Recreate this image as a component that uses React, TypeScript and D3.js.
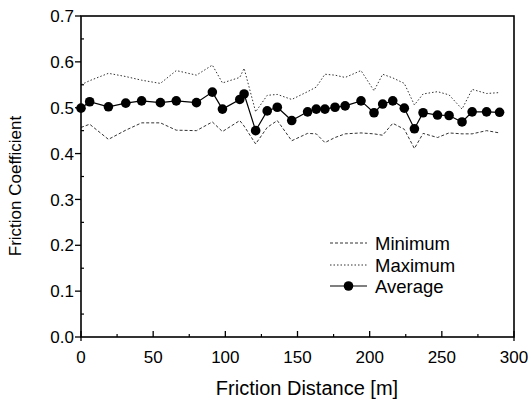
import React from "react";
import * as d3 from "d3";

const distance = [0, 6, 19, 31, 42, 55, 66, 80, 91, 98, 110, 113, 121, 129, 136, 146, 157, 163, 169, 176, 183, 194, 203, 209, 216, 224, 231, 237, 247, 255, 264, 271, 281, 290];
const averageValues = [0.499, 0.513, 0.502, 0.51, 0.515, 0.511, 0.515, 0.511, 0.534, 0.497, 0.518, 0.53, 0.45, 0.493, 0.501, 0.472, 0.491, 0.497, 0.497, 0.501, 0.504, 0.515, 0.489, 0.508, 0.515, 0.499, 0.454, 0.489, 0.484, 0.483, 0.469, 0.491, 0.491, 0.49];
const maximumValues = [0.55, 0.559, 0.575, 0.568, 0.56, 0.553, 0.581, 0.571, 0.593, 0.554, 0.566, 0.586, 0.491, 0.527, 0.529, 0.518, 0.535, 0.545, 0.573, 0.571, 0.566, 0.581, 0.537, 0.573, 0.565, 0.553, 0.506, 0.53, 0.535, 0.528, 0.497, 0.54, 0.531, 0.533];
const minimumValues = [0.457, 0.464, 0.431, 0.451, 0.467, 0.467, 0.451, 0.45, 0.469, 0.448, 0.472, 0.46, 0.421, 0.457, 0.472, 0.428, 0.444, 0.443, 0.424, 0.435, 0.443, 0.445, 0.443, 0.44, 0.466, 0.453, 0.411, 0.444, 0.435, 0.445, 0.443, 0.443, 0.45, 0.445];
const xTicks = [0, 50, 100, 150, 200, 250, 300];
const xMinorTicks = [25, 75, 125, 175, 225, 275];
const yTicks = [0, 0.1, 0.2, 0.3, 0.4, 0.5, 0.6, 0.7];
const yMinorTicks = [0.05, 0.15, 0.25, 0.35, 0.45, 0.55, 0.65];
const legendLabels = ["Minimum", "Maximum", "Average"];

const FONT = "'Liberation Sans', Arial, Helvetica, sans-serif";

export default function App() {
  const left = 81, right = 514, top = 16, bottom = 337;
  const x = d3.scaleLinear().domain([0, 300]).range([left, right]);
  const y = d3.scaleLinear().domain([0, 0.7]).range([bottom, top]);
  const pts = (vals: number[]) => distance.map((d, i) => [d, vals[i]] as [number, number]);
  const line = d3.line<[number, number]>().x(d => x(d[0])).y(d => y(d[1]));

  const legY = [243, 265, 286];
  const legX0 = 330, legX1 = 367;
  const minDash = "3,2";
  const maxDash = "1.5,2";

  return (
    <svg width={532} height={401} style={{ position: "absolute", left: 0, top: 0, background: "#fff" }} fontFamily={FONT}>
      <rect x={0} y={0} width={532} height={401} fill="#fff" />
      <path d={line(pts(maximumValues)) || ""} fill="none" stroke="#333" strokeWidth={1} strokeDasharray={maxDash} />
      <path d={line(pts(minimumValues)) || ""} fill="none" stroke="#333" strokeWidth={1} strokeDasharray={minDash} />
      <path d={line(pts(averageValues)) || ""} fill="none" stroke="#000" strokeWidth={1.2} />
      {pts(averageValues).map((p, i) => (
        <circle key={i} cx={x(p[0])} cy={y(p[1])} r={4.8} fill="#000" />
      ))}
      <rect x={left} y={top} width={right - left} height={bottom - top} fill="none" stroke="#000" strokeWidth={1.6} />
      {xTicks.map(t => (
        <g key={t}>
          <line x1={x(t)} x2={x(t)} y1={bottom} y2={bottom - 6} stroke="#000" strokeWidth={1.3} />
          <text x={x(t)} y={363} textAnchor="middle" fontSize={17} fill="#000">{t}</text>
        </g>
      ))}
      <line x1={x(0)} x2={x(0)} y1={bottom} y2={bottom + 4} stroke="#000" strokeWidth={1.3} />
      <line x1={x(300)} x2={x(300)} y1={bottom} y2={bottom + 4} stroke="#000" strokeWidth={1.3} />
      {xMinorTicks.map(t => (
        <line key={t} x1={x(t)} x2={x(t)} y1={bottom} y2={bottom - 3} stroke="#000" strokeWidth={1.2} />
      ))}
      {yTicks.map(t => (
        <g key={t}>
          <line x1={left - 6} x2={left} y1={y(t)} y2={y(t)} stroke="#000" strokeWidth={1.3} />
          <text x={74} y={y(t)} dy="0.36em" textAnchor="end" fontSize={17} fill="#000">{t.toFixed(1)}</text>
        </g>
      ))}
      {yMinorTicks.map(t => (
        <line key={t} x1={left} x2={left + 3} y1={y(t)} y2={y(t)} stroke="#000" strokeWidth={1.2} />
      ))}
      <text x={307} y={395} textAnchor="middle" fontSize={20} fill="#000">Friction Distance [m]</text>
      <text transform="translate(21,186) rotate(-90)" textAnchor="middle" fontSize={17} fill="#000">Friction Coefficient</text>
      <line x1={legX0} x2={legX1} y1={legY[0]} y2={legY[0]} stroke="#333" strokeWidth={1} strokeDasharray={minDash} />
      <line x1={legX0} x2={legX1} y1={legY[1]} y2={legY[1]} stroke="#333" strokeWidth={1} strokeDasharray={maxDash} />
      <line x1={legX0} x2={legX1} y1={legY[2]} y2={legY[2]} stroke="#000" strokeWidth={1.2} />
      <circle cx={(legX0 + legX1) / 2} cy={legY[2]} r={4.8} fill="#000" />
      {legendLabels.map((l, i) => (
        <text key={l} x={375} y={legY[i]} dy="0.36em" fontSize={18.5} fill="#000">{l}</text>
      ))}
    </svg>
  );
}
